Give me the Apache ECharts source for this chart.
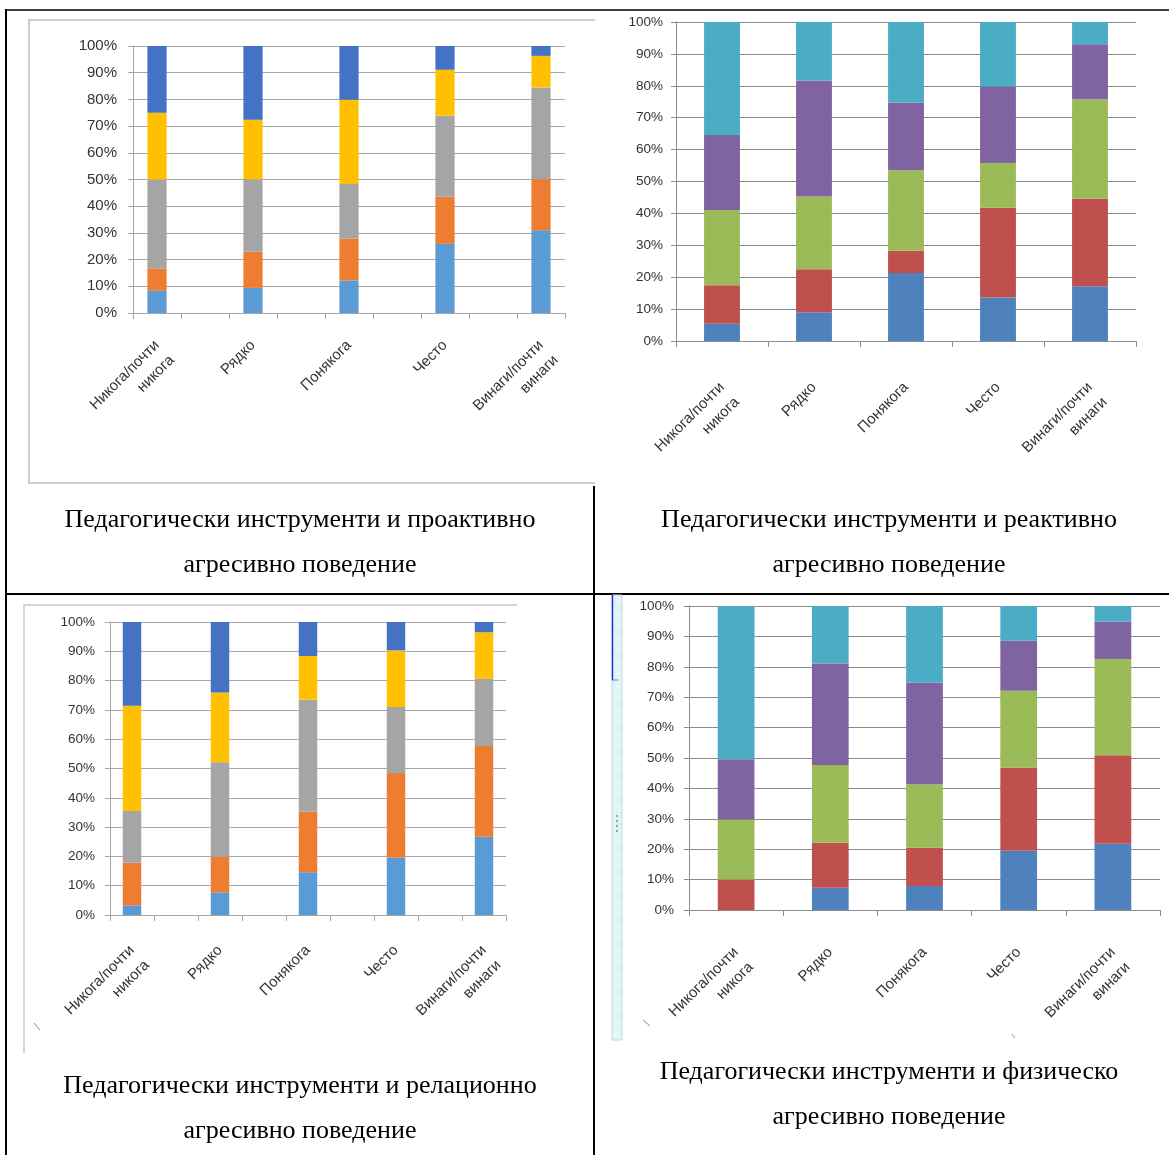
<!DOCTYPE html>
<html>
<head>
<meta charset="utf-8">
<script src="https://cdn.jsdelivr.net/npm/echarts@6/dist/echarts.min.js"></script>
<style>
  html, body { margin: 0; padding: 0; background: #ffffff; }
  #chart { width: 1169px; height: 1155px; }
</style>
</head>
<body>
<div id="chart"></div>
<script>
// Frequency of use of pedagogical tools (x) by level of aggressive behaviour (stacked shares, %)
const categories = ['Никога/почти\nникога', 'Рядко', 'Понякога', 'Често', 'Винаги/почти\nвинаги'];
const seriesNames = ['Степен 1', 'Степен 2', 'Степен 3', 'Степен 4', 'Степен 5'];

// each row = one stacked segment (bottom to top), one value per category
const proactive = [
  [8.3, 9.4, 12.2, 25.9, 31.0],
  [8.4, 13.5, 15.7, 17.6, 19.1],
  [33.3, 27.2, 20.4, 30.4, 34.4],
  [25.0, 22.3, 31.6, 17.2, 11.8],
  [25.0, 27.6, 20.1, 8.9, 3.7]
];
const reactive = [
  [5.4, 9.0, 21.3, 13.6, 17.2],
  [12.1, 13.5, 7.0, 28.2, 27.4],
  [23.6, 22.8, 25.2, 14.0, 31.2],
  [23.5, 36.4, 21.3, 24.0, 17.2],
  [35.4, 18.3, 25.2, 20.2, 7.0]
];
const relational = [
  [3.3, 7.7, 14.6, 19.5, 26.7],
  [14.5, 12.1, 20.6, 29.0, 31.0],
  [17.7, 32.3, 38.3, 22.5, 22.9],
  [35.9, 23.8, 14.9, 19.3, 15.9],
  [28.6, 24.1, 11.6, 9.7, 3.5]
];
const physical = [
  [0, 7.3, 7.9, 19.5, 21.8],
  [10.0, 14.8, 12.6, 27.4, 29.1],
  [19.8, 25.6, 20.9, 25.2, 31.7],
  [19.8, 33.4, 33.4, 16.5, 12.2],
  [50.4, 18.9, 25.2, 11.4, 5.2]
];
const captions = [
  'Педагогически инструменти и проактивно\nагресивно поведение',
  'Педагогически инструменти и реактивно\nагресивно поведение',
  'Педагогически инструменти и релационно\nагресивно поведение',
  'Педагогически инструменти и физическо\nагресивно поведение'
];

const paletteA = ['#5B9BD5', '#ED7D31', '#A5A5A5', '#FFC000', '#4472C4'];
const paletteB = ['#4F81BD', '#C0504D', '#9BBB59', '#8064A2', '#4BACC6'];

// panel layout: plot rectangle, spacing of categories, styling
const panels = [
  { data: proactive, palette: paletteA, spaced: true, grid: { left: 133, top: 46, width: 432, height: 267 },
    barWidth: '40%', yFont: 15, xFont: 15, yMargin: 16, xMargin: 30, lineColor: '#A6A6A6' },
  { data: reactive, palette: paletteB, spaced: false, grid: { left: 676, top: 22, width: 460, height: 319 },
    barWidth: '39%', yFont: 13.5, xFont: 15, yMargin: 13, xMargin: 44, lineColor: '#8C8C8C' },
  { data: relational, palette: paletteA, spaced: true, grid: { left: 110, top: 622, width: 396, height: 293 },
    barWidth: '42%', yFont: 13.5, xFont: 15, yMargin: 15, xMargin: 33, lineColor: '#A6A6A6' },
  { data: physical, palette: paletteB, spaced: false, grid: { left: 689, top: 606, width: 471, height: 304 },
    barWidth: '39%', yFont: 13.5, xFont: 15, yMargin: 15, xMargin: 40, lineColor: '#8C8C8C' }
];

// spaced panels leave an empty slot between every two bars
function axisCategories(spaced) {
  if (!spaced) return categories.slice();
  const out = [];
  categories.forEach((c, i) => { out.push(c); if (i < categories.length - 1) out.push(''); });
  return out;
}
function axisValues(values, spaced) {
  if (!spaced) return values.slice();
  const out = [];
  values.forEach((v, i) => { out.push(v); if (i < values.length - 1) out.push('-'); });
  return out;
}
// two-line labels hang below the tick: their first line sits where a one-line label would
function tickLabel(name) {
  return name.indexOf('\n') >= 0 ? '\n' + name : name;
}

const labelFont = "'Liberation Sans', Arial, sans-serif";
const grids = [], xAxes = [], yAxes = [], series = [];

panels.forEach((p, k) => {
  grids.push(Object.assign({ containLabel: false }, p.grid));
  xAxes.push({
    type: 'category', gridIndex: k, data: axisCategories(p.spaced), boundaryGap: true,
    axisLine: { show: true, lineStyle: { color: p.lineColor, width: 1 } },
    axisTick: { show: true, length: 6, interval: 0, alignWithLabel: false, lineStyle: { color: p.lineColor } },
    axisLabel: {
      interval: 0, rotate: 45, margin: p.xMargin, align: 'right', verticalAlign: 'middle',
      formatter: tickLabel,
      fontFamily: labelFont, fontSize: p.xFont, color: '#333333', lineHeight: 21
    },
    splitLine: { show: false }
  });
  yAxes.push({
    type: 'value', gridIndex: k, min: 0, max: 100, interval: 10,
    axisLine: { show: true, lineStyle: { color: p.lineColor, width: 1 } },
    axisTick: { show: true, length: 5, lineStyle: { color: p.lineColor } },
    axisLabel: {
      formatter: '{value}%', margin: p.yMargin, fontFamily: labelFont, fontSize: p.yFont, color: '#333333'
    },
    splitLine: { show: true, lineStyle: { color: p.lineColor, width: 1.2 } }
  });
  p.data.forEach((row, s) => {
    series.push({
      type: 'bar', name: seriesNames[s], xAxisIndex: k, yAxisIndex: k, stack: 'panel' + k,
      barWidth: p.barWidth, data: axisValues(row, p.spaced),
      itemStyle: { color: p.palette[s] }, silent: true, animation: false
    });
  });
});

// table frame, chart-area outlines and caption text
const black = { stroke: '#000000', lineWidth: 2 };
const graphic = [
  // chart-area outlines
  { type: 'polyline', shape: { points: [[595, 20], [29, 20], [29, 483], [595, 483]] }, style: { stroke: '#BDBDBD', lineWidth: 1.5, fill: null } },
  { type: 'polyline', shape: { points: [[517, 605], [24, 605], [24, 1053]] }, style: { stroke: '#C8C8C8', lineWidth: 1.5, fill: null } },
  // table rules
  { type: 'line', shape: { x1: 5, y1: 10, x2: 1169, y2: 10 }, style: { stroke: '#000000', lineWidth: 1.5 } },
  { type: 'line', shape: { x1: 6, y1: 9, x2: 6, y2: 1155 }, style: black },
  { type: 'line', shape: { x1: 5, y1: 594, x2: 1169, y2: 594 }, style: black },
  { type: 'line', shape: { x1: 594, y1: 486, x2: 594, y2: 1155 }, style: black },
  // side strip next to the lower-right chart
  { type: 'rect', shape: { x: 612, y: 595, width: 10, height: 445 }, style: { fill: '#E4F5F8', stroke: '#BFD7DE', lineWidth: 1 } },
  { type: 'line', shape: { x1: 612.5, y1: 595, x2: 612.5, y2: 680 }, style: { stroke: '#2A2AE6', lineWidth: 1.5 } },
  { type: 'line', shape: { x1: 612, y1: 680, x2: 618, y2: 680 }, style: { stroke: '#2A2AE6', lineWidth: 1 } },
  // small stray strokes
  { type: 'line', shape: { x1: 34, y1: 1023, x2: 40, y2: 1030 }, style: { stroke: '#8A8A8A', lineWidth: 1 } },
  { type: 'line', shape: { x1: 643, y1: 1020, x2: 650, y2: 1026 }, style: { stroke: '#8A8A8A', lineWidth: 1 } },
  { type: 'line', shape: { x1: 1012, y1: 1034, x2: 1015, y2: 1038 }, style: { stroke: '#9A9A9A', lineWidth: 1 } }
];
for (let y = 608; y < 1040; y += 24) {
  graphic.push({ type: 'line', shape: { x1: 613, y1: y, x2: 621, y2: y }, style: { stroke: '#CFE3E8', lineWidth: 1 } });
}
for (let i = 0; i < 4; i++) {
  graphic.push({ type: 'circle', shape: { cx: 617, cy: 816 + i * 5, r: 1 }, style: { fill: '#7A8A90' } });
}
const captionPos = [[300, 498], [889, 498], [300, 1064], [889, 1050]];
captions.forEach((t, i) => {
  graphic.push({
    type: 'text', x: captionPos[i][0], y: captionPos[i][1],
    style: { text: t, align: 'center', verticalAlign: 'top', lineHeight: 45,
      font: "26px 'Liberation Serif', 'Times New Roman', serif", fill: '#000000' }
  });
});

const chart = echarts.init(document.getElementById('chart'), null, { renderer: 'canvas' });
chart.setOption({
  backgroundColor: '#ffffff',
  animation: false,
  grid: grids,
  xAxis: xAxes,
  yAxis: yAxes,
  series: series,
  graphic: graphic
});
</script>
</body>
</html>
